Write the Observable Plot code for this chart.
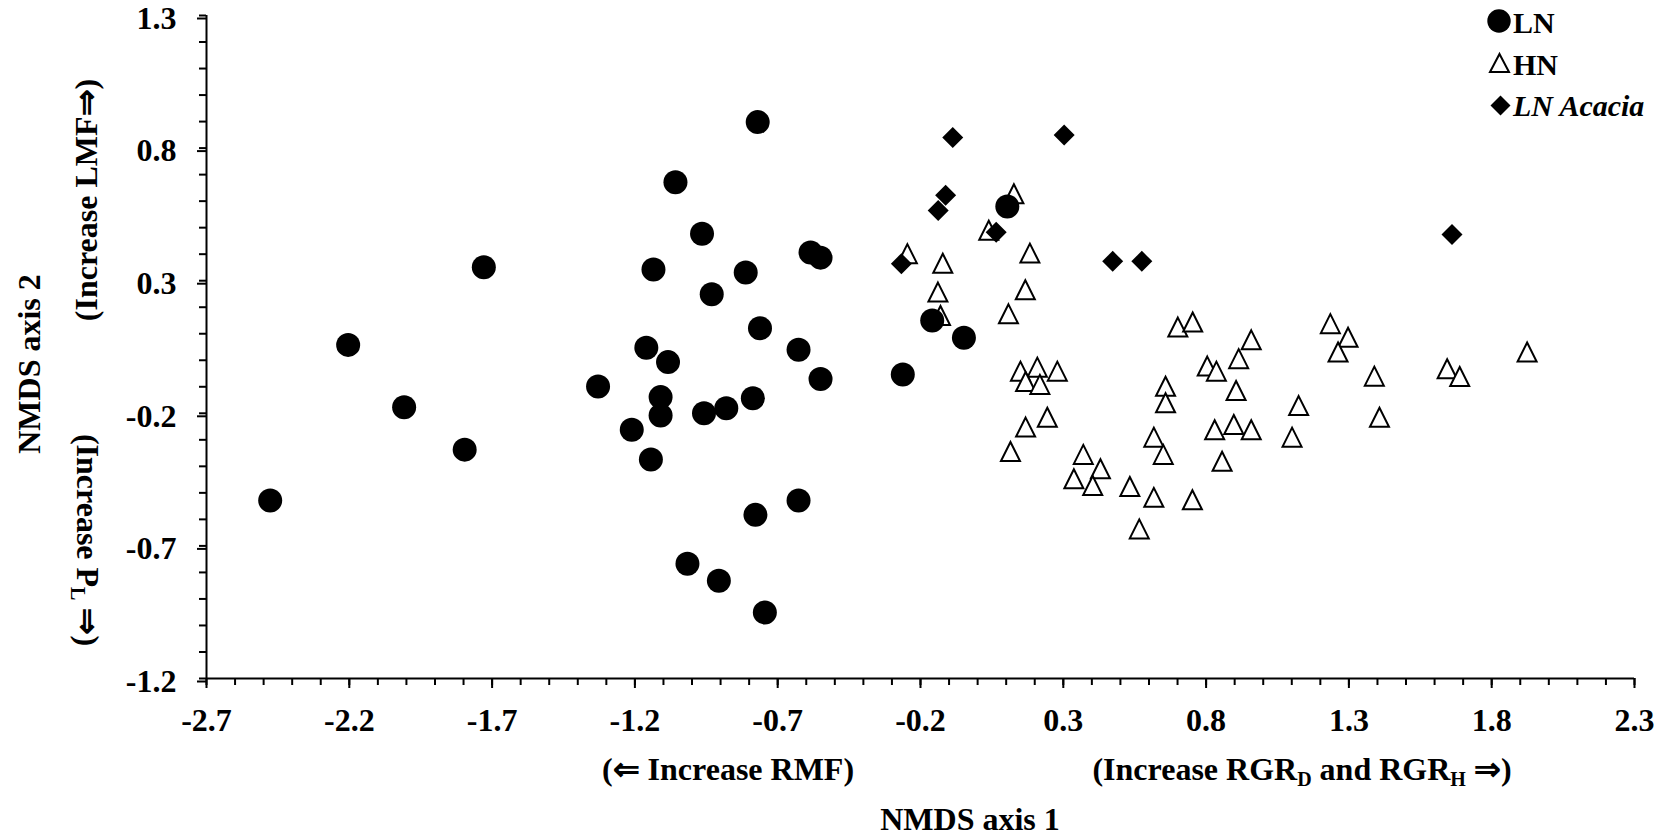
<!DOCTYPE html>
<html><head><meta charset="utf-8">
<script src="https://cdn.jsdelivr.net/npm/d3@7"></script>
<script src="https://cdn.jsdelivr.net/npm/@observablehq/plot@0.6"></script>
<style>body{margin:0;background:#fff;}</style>
</head><body><div id="chart"></div>
<script>
// ---- data (NMDS axis 1, NMDS axis 2) ----
const lnX = [-2.477, -2.204, -2.008, -1.796, -1.729, -1.329, -1.211, -1.160, -1.144, -1.135, -1.110, -1.110, -1.084, -1.058, -1.016, -0.965, -0.958, -0.931, -0.906, -0.880, -0.812, -0.787, -0.778, -0.770, -0.762, -0.745, -0.627, -0.627, -0.585, -0.550, -0.550, -0.262, -0.159, -0.048, 0.104];
const lnY = [-0.529, 0.058, -0.177, -0.337, 0.351, -0.099, -0.262, 0.047, -0.374, 0.342, -0.139, -0.208, -0.007, 0.671, -0.767, 0.477, -0.200, 0.249, -0.831, -0.181, 0.331, -0.143, -0.583, 0.898, 0.121, -0.951, 0.040, -0.529, 0.406, 0.387, -0.071, -0.054, 0.150, 0.085, 0.580];

const hnX = [-0.246, -0.122, -0.139, -0.130, 0.127, 0.039, 0.183, 0.167, 0.108, 0.701, 0.753, 0.958, 0.804, 0.836, 0.914, 0.905, 0.658, 0.658, 0.150, 0.209, 0.279, 0.168, 0.218, 0.244, 0.168, 0.115, 0.617, 0.650, 0.830, 0.897, 0.958, 0.856, 1.101, 1.124, 0.370, 0.430, 0.337, 0.403, 0.533, 0.617, 0.752, 0.566, 1.235, 1.297, 1.262, 1.389, 1.407, 1.644, 1.688, 1.924];
const hnY = [0.402, 0.366, 0.257, 0.169, 0.628, 0.490, 0.404, 0.266, 0.175, 0.125, 0.144, 0.077, -0.022, -0.041, 0.006, -0.114, -0.098, -0.160, -0.041, -0.026, -0.041, -0.080, -0.091, -0.215, -0.252, -0.344, -0.290, -0.355, -0.262, -0.242, -0.262, -0.381, -0.290, -0.171, -0.355, -0.409, -0.447, -0.472, -0.476, -0.517, -0.526, -0.636, 0.138, 0.087, 0.031, -0.060, -0.215, -0.032, -0.061, 0.031];

const acX = [-0.267, -0.138, -0.112, -0.087, 0.065, 0.303, 0.473, 0.575, 1.661];
const acY = [0.364, 0.565, 0.622, 0.840, 0.483, 0.849, 0.373, 0.373, 0.474];

const xTicks = [-2.7, -2.2, -1.7, -1.2, -0.7, -0.2, 0.3, 0.8, 1.3, 1.8, 2.3];
const yTicks = [-1.2, -0.7, -0.2, 0.3, 0.8, 1.3];
const legendLabels = ["LN", "HN", "LN Acacia"];

// ---- build ----
const ln = lnX.map((x, i) => ({x, y: lnY[i]}));
const hn = hnX.map((x, i) => ({x, y: hnY[i]}));
const ac = acX.map((x, i) => ({x, y: acY[i]}));
const minorX = d3.range(-27, 24).map(d => d / 10);
const minorY = d3.range(-12, 14).map(d => d / 10);

const triangleSym = {draw(ctx, size) { const r = Math.sqrt(size / Math.PI); ctx.moveTo(0, -r); ctx.lineTo(r, r); ctx.lineTo(-r, r); ctx.closePath(); }};
const diamondSym = {draw(ctx, size) { const r = Math.sqrt(size / Math.PI); ctx.moveTo(0, -r); ctx.lineTo(r, 0); ctx.lineTo(0, r); ctx.lineTo(-r, 0); ctx.closePath(); }};

const font = "'Liberation Serif','Times New Roman',serif";
const fmt = d => d.toFixed(1);

const chart = Plot.plot({
  width: 1669, height: 839,
  marginLeft: 206, marginRight: 35, marginTop: 15, marginBottom: 161,
  style: {fontFamily: font, fontSize: "32px", fontWeight: "bold", background: "#fff", color: "#000", overflow: "visible"},
  x: {domain: [-2.7, 2.3], label: null},
  y: {domain: [-1.2, 1.3], label: null},
  marks: [
    Plot.axisX(minorX, {tickSize: 7, strokeWidth: 2, tickFormat: () => "", label: null}),
    Plot.axisX(xTicks, {tickSize: 10, strokeWidth: 2, tickPadding: 20, tickFormat: fmt, label: null, fontSize: 32, fontWeight: "bold"}),
    Plot.axisY(minorY, {tickSize: 7, strokeWidth: 2, tickFormat: () => "", label: null}),
    Plot.axisY(yTicks, {tickSize: 9, strokeWidth: 2, tickPadding: 21, tickFormat: fmt, label: null, fontSize: 32, fontWeight: "bold", dy: 3}),
    Plot.ruleX([-2.7], {y1: -1.2, y2: 1.3, strokeWidth: 2}),
    Plot.ruleY([-1.2], {x1: -2.7, x2: 2.3, strokeWidth: 2}),
    Plot.dot(hn, {x: "x", y: "y", symbol: triangleSym, r: 9.5, fill: "white", stroke: "black", strokeWidth: 2}),
    Plot.dot(ln, {x: "x", y: "y", r: 12, fill: "black"}),
    Plot.dot(ac, {x: "x", y: "y", symbol: diamondSym, r: 10.5, fill: "black"})
  ]
});
document.getElementById("chart").appendChild(chart);

// ---- titles & legend ----
const svg = d3.select(chart);
const g = svg.append("g").attr("font-family", font).attr("font-weight", "bold").attr("fill", "black").attr("font-size", 32).attr("text-anchor", "middle");
g.append("text").attr("x", 970).attr("y", 830).text("NMDS axis 1");
g.append("text").attr("x", 728).attr("y", 780).text("(\u21D0 Increase RMF)");
const t = g.append("text").attr("x", 1302).attr("y", 780);
t.append("tspan").text("(Increase RGR");
t.append("tspan").attr("font-size", 20).attr("dy", 6).text("D");
t.append("tspan").attr("dy", -6).text(" and RGR");
t.append("tspan").attr("font-size", 20).attr("dy", 6).text("H");
t.append("tspan").attr("dy", -6).text(" \u21D2)");

g.append("text").attr("transform", "translate(40,364) rotate(-90)").text("NMDS axis 2");
g.append("text").attr("transform", "translate(97,200) rotate(-90)").text("(Increase LMF\u21D2)");
const p = g.append("text").attr("transform", "translate(77,540) rotate(90)");
p.append("tspan").text("(Increase P");
p.append("tspan").attr("font-size", 20).attr("dy", 6).text("L");
p.append("tspan").attr("dy", -6).text(" \u21D2)");

// legend
const lg = svg.append("g").attr("font-family", font).attr("font-weight", "bold").attr("font-size", 30).attr("fill", "black").attr("text-anchor", "start");
lg.append("circle").attr("cx", 1499).attr("cy", 21).attr("r", 11.7).attr("fill", "black");
lg.append("path").attr("d", "M1499.5,54 L1509,72 L1490,72 Z").attr("fill", "white").attr("stroke", "black").attr("stroke-width", 2);
lg.append("path").attr("d", "M1500.5,95.5 L1510.5,105.5 L1500.5,115.5 L1490.5,105.5 Z").attr("fill", "black");
legendLabels.forEach((lab, i) => {
  lg.append("text").attr("x", 1513).attr("y", [33, 75, 116][i]).attr("font-style", i === 2 ? "italic" : "normal").text(lab);
});
</script>
</body></html>
